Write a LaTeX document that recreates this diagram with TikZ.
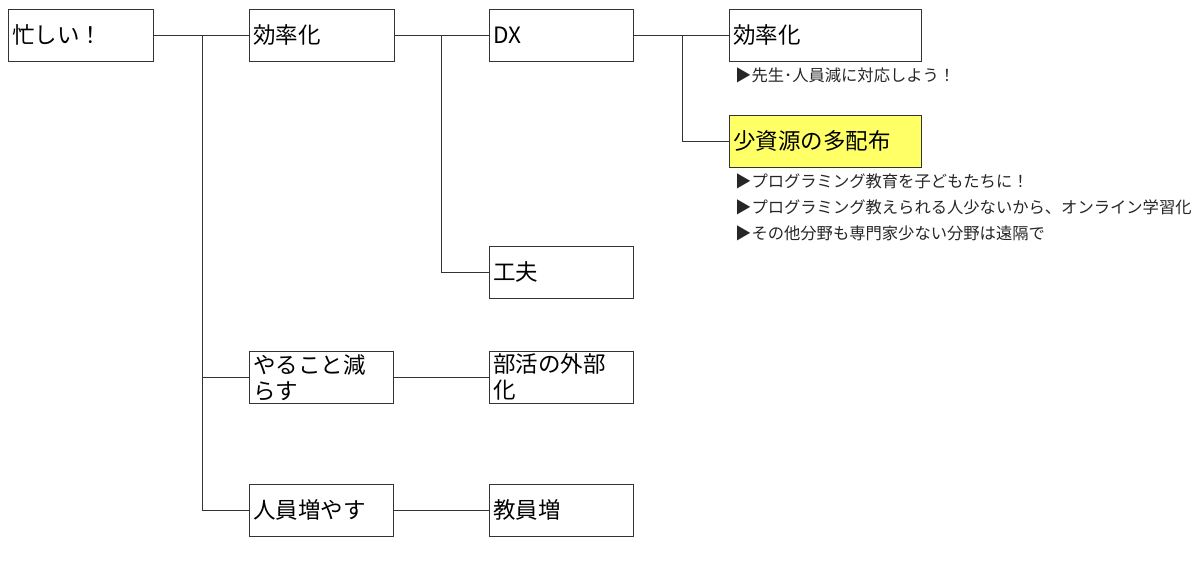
\documentclass[tikz,border=0pt]{standalone}
\usepackage{fontspec}
\setmainfont{Noto Sans CJK JP}
\begin{document}
\begin{tikzpicture}[x=1pt,y=-1pt,
  box/.style={draw=black!80, line width=0.8pt, fill=white, anchor=north west,
    minimum height=52pt, inner xsep=4pt, inner ysep=0pt, align=left,
    text width=#1, font=\fontsize{22.5}{26}\selectfont},
  conn/.style={draw=black!80, line width=0.8pt},
  note/.style={anchor=west, inner sep=0pt, font=\fontsize{16.3}{18}\selectfont, text=black!85}]
\useasboundingbox (0,0) rectangle (1200,563);
\node[box=137pt] (busy) at (8,9) {忙しい！};
\node[box=137pt] (eff) at (249,9) {効率化};
\node[box=136pt] (dx) at (489,9) {DX};
\node[box=184pt] (eff2) at (729,9) {効率化};
\node[box=184pt, fill={rgb,255:red,255;green,255;blue,102}] (few) at (729,115) {少資源の多配布};
\node[box=136pt] (kufu) at (489,246) {工夫};
\node[box=136pt] (reduce) at (249,351) {やること減\\らす};
\node[box=136pt] (club) at (489,351) {部活の外部\\化};
\node[box=136pt] (staff) at (249,484) {人員増やす};
\node[box=136pt] (teach) at (489,484) {教員増};
\path (busy.east) ++(49,0) coordinate (j1);
\path (eff.east) ++(47,0) coordinate (j2);
\path (dx.east) ++(49,0) coordinate (j3);
\draw[conn] (busy.east) -- (j1) |- (eff.west);
\draw[conn] (j1) |- (reduce.west);
\draw[conn] (j1) |- (staff.west);
\draw[conn] (eff.east) -- (j2) |- (dx.west);
\draw[conn] (j2) |- (kufu.west);
\draw[conn] (dx.east) -- (j3) |- (eff2.west);
\draw[conn] (j3) |- (few.west);
\draw[conn] (reduce.east) -- (club.west);
\draw[conn] (staff.east) -- (teach.west);
\node[note] (n1) at (735,75) {▶先生･人員減に対応しよう！};
\node[note] (n2) at (735,181) {▶プログラミング教育を子どもたちに！};
\node[note] (n3) at (735,207) {▶プログラミング教えられる人少ないから、オンライン学習化};
\node[note] (n4) at (735,233) {▶その他分野も専門家少ない分野は遠隔で};
\end{tikzpicture}
\end{document}
